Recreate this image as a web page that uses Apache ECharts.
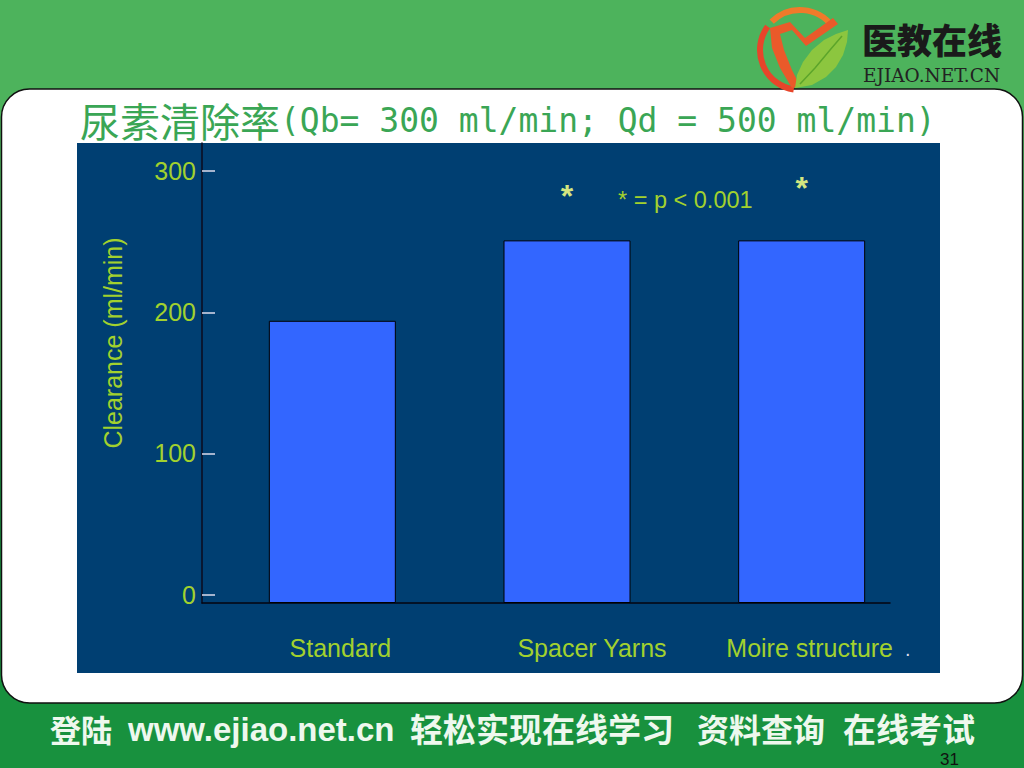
<!DOCTYPE html>
<html>
<head>
<meta charset="utf-8">
<script src="https://cdn.jsdelivr.net/npm/echarts@6/dist/echarts.min.js"></script>
<style>
html,body{margin:0;padding:0;background:#fff;}
#chart{width:1024px;height:768px;}
</style>
</head>
<body>
<div id="chart"></div>
<script>
// ---- data ----
const categories = ['Standard', 'Spacer Yarns', 'Moire structure'];
const clearance = [194, 251, 251];
const significance = ['', '*', '*'];
const yTickValues = [0, 100, 200, 300];
const yMin = -6;
const yMax = 320;

const titleCn = '尿素清除率';
const titleEn = '(Qb= 300 ml/min; Qd = 500 ml/min)';
const yName = 'Clearance (ml/min)';
const pNote = '* = p < 0.001';

const labelColor = '#a2d12e';
const labelPad = [16, 50, 16];
const axisFont = '"Liberation Sans", Arial';

const chart = echarts.init(document.getElementById('chart'), null, {renderer: 'svg'});

const option = {
  animation: false,
  backgroundColor: '#18913e',
  graphic: [
    {type: 'rect', z: -10, shape: {x: 0, y: 0, width: 1024, height: 400}, style: {fill: '#4db35c'}},
    {type: 'rect', z: -10, shape: {x: 0, y: 400, width: 1024, height: 368}, style: {fill: '#18913e'}},
    {type: 'rect', z: -9, shape: {x: 1.5, y: 89, width: 1021, height: 614, r: 28}, style: {fill: '#ffffff', stroke: '#111', lineWidth: 1.5}},
    {type: 'rect', z: -8, shape: {x: 77, y: 143, width: 863, height: 530}, style: {fill: '#003f72'}},
    // title
    {type: 'text', z: 5, x: 80, y: 120, style: {
      text: '{c|' + titleCn + '}{m|' + titleEn + '}',
      verticalAlign: 'middle',
      rich: {
        c: {fontFamily: '"Noto Sans CJK SC"', fontSize: 40, fill: '#3aa655'},
        m: {fontFamily: '"DejaVu Sans Mono"', fontSize: 33, fill: '#3aa655'}
      }
    }},
    // p-value note
    {type: 'text', z: 5, x: 618, y: 200, style: {text: pNote, fontFamily: axisFont, fontSize: 23.5, fill: labelColor, verticalAlign: 'middle'}},
    {type: 'text', z: 5, x: 905, y: 649, style: {text: '.', fontFamily: axisFont, fontSize: 20, fill: '#dde', verticalAlign: 'middle'}},
    // footer
    {type: 'text', z: 5, x: 50, y: 728, style: {text: '登陆', fontFamily: '"Noto Sans CJK SC"', fontWeight: 'bold', fontSize: 31, fill: '#eef8ee', verticalAlign: 'middle'}},
    {type: 'text', z: 5, x: 128, y: 729, style: {text: 'www.ejiao.net.cn', fontFamily: axisFont, fontWeight: 'bold', fontSize: 33, fill: '#eef8ee', verticalAlign: 'middle'}},
    {type: 'text', z: 5, x: 410, y: 728, style: {text: '轻松实现在线学习', fontFamily: '"Noto Sans CJK SC"', fontWeight: 'bold', fontSize: 33, fill: '#eef8ee', verticalAlign: 'middle'}},
    {type: 'text', z: 5, x: 697, y: 728, style: {text: '资料查询', fontFamily: '"Noto Sans CJK SC"', fontWeight: 'bold', fontSize: 32, fill: '#eef8ee', verticalAlign: 'middle'}},
    {type: 'text', z: 5, x: 843, y: 728, style: {text: '在线考试', fontFamily: '"Noto Sans CJK SC"', fontWeight: 'bold', fontSize: 33, fill: '#eef8ee', verticalAlign: 'middle'}},
    {type: 'text', z: 6, x: 940, y: 759, style: {text: '31', fontFamily: axisFont, fontSize: 17, fill: '#111', verticalAlign: 'middle'}},
    // logo
    {type: 'arc', z: 5, shape: {cx: 800, cy: 50, r: 40, startAngle: Math.PI * 0.55, endAngle: Math.PI * 1.2}, style: {stroke: '#e8452a', lineWidth: 6, fill: null}},
    {type: 'arc', z: 5, shape: {cx: 800, cy: 50, r: 40, startAngle: Math.PI * 1.25, endAngle: Math.PI * 1.8}, style: {stroke: '#f07a2a', lineWidth: 6, fill: null}},
    {type: 'polygon', z: 5, shape: {points: [[770,28],[790,22],[805,38],[833,18],[838,24],[806,46],[792,30],[780,34],[784,50],[792,70],[800,86],[792,88],[780,68],[772,48]]}, style: {fill: '#ea5a2a'}},
    {type: 'polygon', z: 5, shape: {points: [[795,88],[797,75],[803,62],[812,50],[824,40],[836,34],[848,30],[847,42],[843,55],[836,67],[826,77],[812,85]]}, style: {fill: '#8cc63f'}},
    {type: 'polyline', z: 6, shape: {points: [[800,84],[815,68],[830,50],[842,36]]}, style: {stroke: '#5ca52a', lineWidth: 1.5, fill: null}},
    {type: 'text', z: 5, x: 862, y: 38, style: {text: '医教在线', fontFamily: '"Noto Sans CJK SC"', fontWeight: 900, fontSize: 35, lineHeight: 35, fill: '#1a1a1a', verticalAlign: 'middle'}},
    {type: 'text', z: 5, x: 863, y: 75, style: {text: 'EJIAO.NET.CN', fontFamily: '"DejaVu Serif"', fontSize: 18.5, lineHeight: 18.5, fill: '#222', verticalAlign: 'middle'}}
  ],
  grid: [
    {left: 215, top: 143, width: 704, height: 460},
    {left: 202, top: 143, width: 688, height: 460}
  ],
  xAxis: [
    {
      type: 'category', gridIndex: 0,
      data: categories.map((c, i) => ({value: c, textStyle: {padding: [0, 0, 0, labelPad[i]]}})),
      axisLine: {show: false}, axisTick: {show: false},
      axisLabel: {color: labelColor, fontSize: 25, fontFamily: axisFont, margin: 32, interval: 0}
    },
    {
      type: 'value', gridIndex: 1, min: 0, max: 1,
      axisLine: {show: true, onZero: false, lineStyle: {color: '#05050f', width: 1.5}},
      axisTick: {show: false}, axisLabel: {show: false}, splitLine: {show: false}
    }
  ],
  yAxis: [
    {
      type: 'value', gridIndex: 0, min: yMin, max: yMax, startValue: yMin, show: false
    },
    {
      type: 'value', gridIndex: 1, min: yMin, max: yMax,
      name: yName, nameLocation: 'middle', nameRotate: 90, nameGap: 77,
      nameTextStyle: {color: labelColor, fontSize: 25, fontFamily: axisFont, padding: [0, 0, 0, 60]},
      axisLine: {show: true, onZero: false, lineStyle: {color: '#0b0b1e', width: 1.5}},
      axisTick: {show: true, inside: true, length: 13, customValues: yTickValues, lineStyle: {color: '#dde', width: 1.5}},
      axisLabel: {color: labelColor, fontSize: 25, fontFamily: axisFont, margin: 6, customValues: yTickValues},
      splitLine: {show: false}
    }
  ],
  series: [
    {
      type: 'bar', xAxisIndex: 0, yAxisIndex: 0,
      barWidth: 127,
      data: clearance.map((v, i) => ({
        value: v,
        label: {
          show: significance[i] !== '',
          formatter: significance[i],
          position: 'top',
          distance: i === 1 ? 28 : 36,
          color: '#d4e680', fontSize: 32, fontWeight: 'bold', fontFamily: axisFont
        }
      })),
      itemStyle: {color: '#3366ff', borderColor: '#000', borderWidth: 1}
    }
  ]
};
chart.setOption(option);
</script>
</body>
</html>
